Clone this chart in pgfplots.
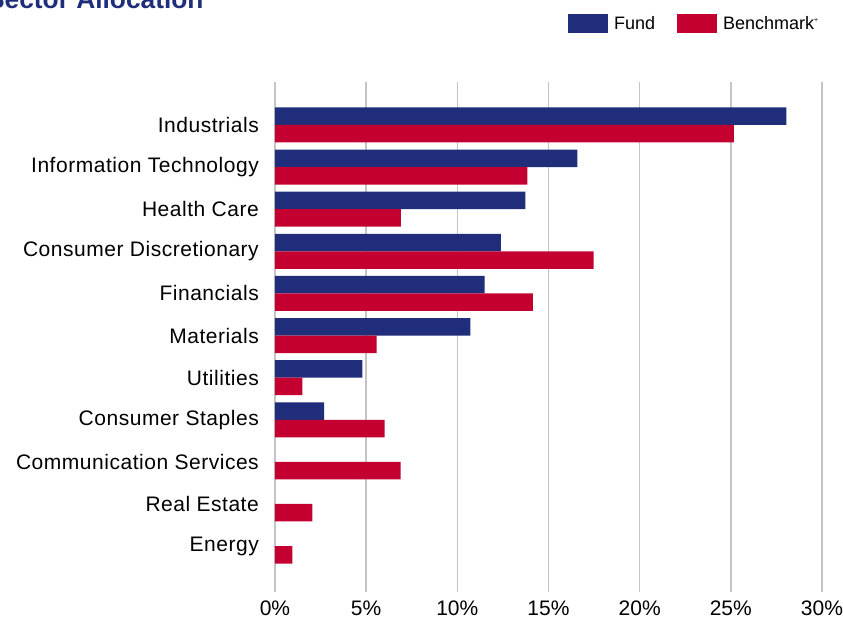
\documentclass[border=0pt]{standalone}
\usepackage{fontspec}
\setmainfont{Liberation Sans}
\usepackage{pgfplots}
\pgfplotsset{compat=1.18}
\definecolor{fundblue}{RGB}{31,45,122}
\definecolor{benchred}{RGB}{196,0,48}
\definecolor{gridgray}{RGB}{196,196,196}
\pgfplotsset{myleg/.style={legend image code/.code={\fill[##1] (0pt,-9.5pt) rectangle (40pt,9.5pt);}}}
\begin{document}
\begin{tikzpicture}[x=1pt,y=1pt]
\path[use as bounding box] (0,0) rectangle (843,621);
\node[anchor=base west, text=fundblue, font=\bfseries\fontsize{26.3}{30}\selectfont, inner sep=0pt] at (-13,612) {Sector Allocation};
\begin{axis}[
  at={(275pt,29pt)}, anchor=south west,
  scale only axis, width=547pt, height=510pt,
  xmin=0, xmax=30, ymin=-1.09, ymax=11.02,
  xtick={0,5,10,15,20,25,30},
  xticklabel={\pgfmathprintnumber{\tick}\%},
  ytick={0,1,2,3,4,5,6,7,8,9,10},
  yticklabels={Energy,Real Estate,Communication Services,Consumer Staples,Utilities,Materials,Financials,Consumer Discretionary,Health Care,Information Technology,Industrials},
  xmajorgrids, ymajorgrids=false,
  major grid style={draw=gridgray, line width=1.6pt},
  axis line style={draw=none}, tick style={draw=none},
  /pgf/number format/assume math mode=true,
  xticklabel style={font=\fontsize{21}{24}\selectfont, anchor=north, inner sep=0pt, yshift=-9pt},
  yticklabel style={font=\fontsize{21}{24}\selectfont\addfontfeature{LetterSpace=2.5}, anchor=east, inner sep=0pt, xshift=-16pt},
  legend style={at={(0.5356,1.1147)}, anchor=west, draw=none, fill=none, inner sep=0pt,
    nodes={inner sep=0pt},
    font=\fontsize{18}{20}\selectfont, legend columns=2,
    /tikz/every odd column/.append style={column sep=6pt},
    /tikz/every even column/.append style={column sep=22pt}},
  legend cell align=left,
]
\addplot[xbar, bar width=17.5pt, bar shift=8.75pt, fill=fundblue, draw=none, myleg] coordinates {
  (28.04,10) (16.59,9) (13.73,8) (12.39,7) (11.50,6) (10.72,5) (4.79,4) (2.70,3)
};
\addplot[xbar, bar width=17.5pt, bar shift=-8.75pt, fill=benchred, draw=none, myleg] coordinates {
  (25.16,10) (13.84,9) (6.90,8) (17.47,7) (14.14,6) (5.57,5) (1.50,4) (6.01,3) (6.89,2) (2.05,1) (0.95,0)
};
\legend{Fund, Benchmark\textsuperscript{\scriptsize+}}
\end{axis}
\end{tikzpicture}
\end{document}
